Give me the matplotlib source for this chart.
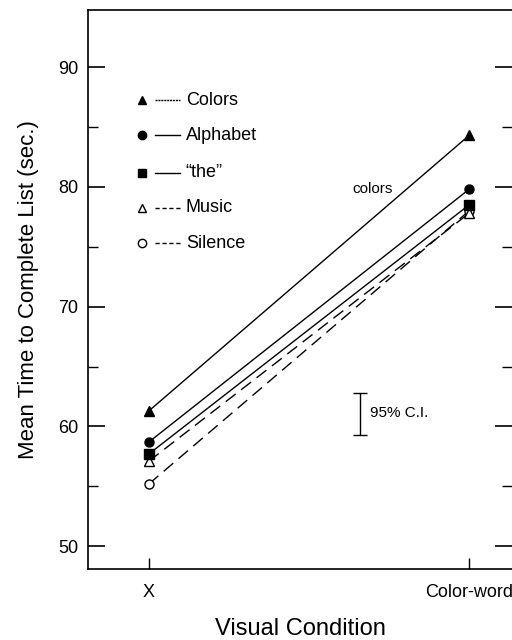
import numpy as np
import matplotlib
matplotlib.use("Agg")
import matplotlib.pyplot as plt

plt.rcParams['font.family'] = ['Liberation Sans', 'DejaVu Sans']

# data
conditions = ["X", "Color-word"]
series = ["Colors", "Alphabet", "\u201cthe\u201d", "Music", "Silence"]
colors_vals = [61.3, 84.3]
alphabet_vals = [58.7, 79.8]
the_vals = [57.7, 78.5]
music_vals = [57.1, 77.8]
silence_vals = [55.2, 78.0]
ci_low, ci_high = 59.25, 62.8

values = [colors_vals, alphabet_vals, the_vals, music_vals, silence_vals]
markers = ['^', 'o', 's', '^', 'o']
fills = ['k', 'k', 'k', 'white', 'white']
styles = ['-', '-', '-', (0, (9, 5)), (0, (9, 5))]
legend_y = [87.25, 84.3, 81.2, 78.25, 75.3]
legend_styles = [(0, (1.5, 0.6)), '-', '-', (0, (3, 2)), (0, (3, 2))]

fig = plt.figure(figsize=(5.12, 6.4), dpi=100)
ax = fig.add_axes([0.172, 0.111, 0.828, 0.873])

x = np.arange(len(conditions))
# draw bottom series first so the upper ones sit on top
for i in reversed(range(len(values))):
    ax.plot(x, values[i], color='k', lw=1.0, linestyle=styles[i], zorder=2)
for i in [4, 3, 1, 0, 2]:
    ax.plot(x, values[i], linestyle='none', marker=markers[i], ms=6.5,
            mfc=fills[i], mec='k', mew=1.0, zorder=3)

# hand-drawn legend inside the plot
for name, yy, m, fc, ls in zip(series, legend_y, markers, fills, legend_styles):
    ax.plot(-0.02, yy, marker=m, ms=6, mfc=fc, mec='k', mew=1.0, clip_on=False)
    ax.plot([0.018, 0.096], [yy, yy], color='k', lw=1.0, linestyle=ls)
    ax.text(0.115, yy, name, fontsize=13, va='center', ha='left')

ax.text(0.70, 79.8, "colors", fontsize=11, ha='center', va='center')

# 95% CI bar
ax.errorbar([0.66], [(ci_low + ci_high) / 2], yerr=[[(ci_high - ci_low) / 2]],
            fmt='none', ecolor='k', elinewidth=1.0, capsize=5, capthick=1.0)
ax.text(0.69, 61.1, "95% C.I.", fontsize=11, ha='left', va='center')

ax.set_xlim(-0.19, 1.134)
ax.set_ylim(48.1, 94.75)
ax.set_xticks(x)
ax.set_xticklabels(conditions, fontsize=13)
ax.set_yticks([50, 60, 70, 80, 90])
ax.set_yticks([55, 65, 75, 85], minor=True)
ax.tick_params(axis='y', which='major', direction='in', length=12, width=1.2,
               labelsize=13, right=True, pad=7)
ax.tick_params(axis='y', which='minor', direction='in', length=7, width=1.0,
               right=True)
ax.tick_params(axis='x', direction='in', length=8, width=1.0, pad=11)
ax.spines['right'].set_visible(False)
for s in ['left', 'top', 'bottom']:
    ax.spines[s].set_linewidth(1.2)

ax.set_xlabel("Visual Condition", fontsize=17, labelpad=12)
ax.set_ylabel("Mean Time to Complete List (sec.)", fontsize=16, labelpad=14)

plt.savefig("out.png", dpi=100)
